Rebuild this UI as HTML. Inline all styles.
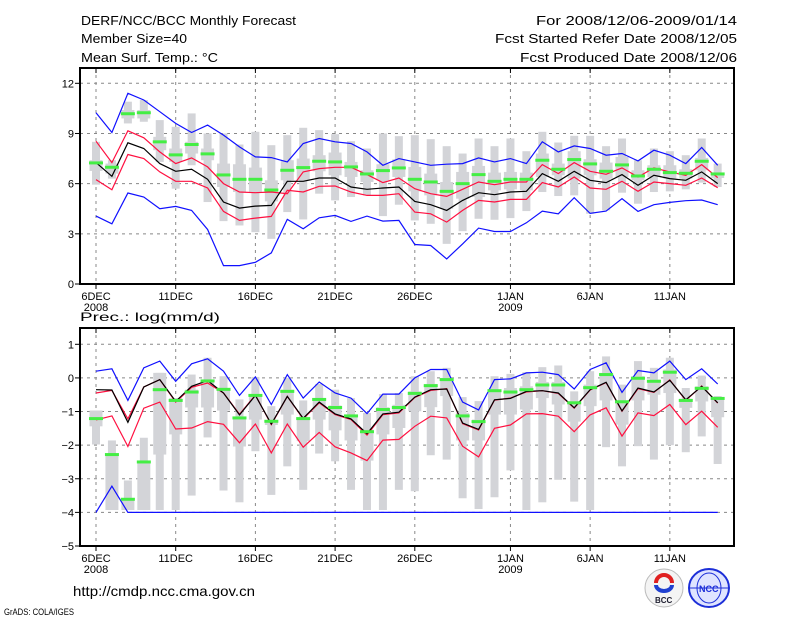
<!DOCTYPE html>
<html><head><meta charset="utf-8"><style>
body{margin:0;background:#fff;}
svg{display:block;font-family:"Liberation Sans",sans-serif;}
</style></head><body>
<svg id="chart" width="800" height="618" viewBox="0 0 800 618">
<g font-size="13" fill="#000">
<text x="81" y="25" textLength="215" lengthAdjust="spacingAndGlyphs">DERF/NCC/BCC Monthly Forecast</text>
<text x="81" y="43" textLength="106" lengthAdjust="spacingAndGlyphs">Member Size=40</text>
<text x="81" y="62" textLength="137" lengthAdjust="spacingAndGlyphs">Mean Surf. Temp.: °C</text>
<text x="536" y="25" textLength="201" lengthAdjust="spacingAndGlyphs">For 2008/12/06-2009/01/14</text>
<text x="495" y="43" textLength="242" lengthAdjust="spacingAndGlyphs">Fcst Started Refer Date 2008/12/05</text>
<text x="520" y="62" textLength="217" lengthAdjust="spacingAndGlyphs">Fcst Produced Date 2008/12/06</text>
<text x="80" y="321" font-size="12" textLength="140" lengthAdjust="spacingAndGlyphs">Prec.: log(mm/d)</text>
<text x="73" y="596" font-size="14" textLength="182" lengthAdjust="spacingAndGlyphs">http://cmdp.ncc.cma.gov.cn</text>
<text x="4" y="615" font-size="9" textLength="70" lengthAdjust="spacingAndGlyphs">GrADS: COLA/IGES</text>
</g>
<g>
<ellipse cx="664" cy="588" rx="19" ry="19" fill="#f4f4f4" stroke="#bbb"/>
<path d="M656 583 a8 8 0 1 1 16 0" fill="none" stroke="#e02020" stroke-width="4"/>
<path d="M656 585 a8 6 0 0 0 16 0" fill="none" stroke="#2040d0" stroke-width="4"/>
<text x="655" y="603" font-size="8" font-weight="bold" fill="#223">BCC</text>
</g>
<g>
<ellipse cx="709" cy="588" rx="20" ry="19" fill="#dfe4ff" stroke="#1c2ed8" stroke-width="2"/>
<ellipse cx="709" cy="588" rx="12" ry="15" fill="none" stroke="#1c2ed8"/>
<line x1="690" y1="588" x2="728" y2="588" stroke="#1c2ed8"/>
<text x="699" y="592" font-size="9" font-weight="bold" fill="#1c2ed8">NCC</text>
</g>
</svg>
<script>
// ---- data ----
const dayLabels = ["6DEC","11DEC","16DEC","21DEC","26DEC","1JAN","6JAN","11JAN"];
const dayLabelIdx = [0,5,10,15,20,26,31,36];
const yearLabels = ["2008","2009"];
const yearLabelIdx = [0,26];
const tTicks = [0,3,6,9,12];
const pTicks = [1,0,-1,-2,-3,-4,-5];

const tMaxEns = [10.24,9.06,11.4,11.0,10.3,9.6,9.06,9.5,8.9,8.2,7.6,7.56,7.3,8.4,8.7,8.5,8.4,7.9,7.1,7.5,7.3,7.1,7.16,7.2,7.54,7.3,7.5,7.2,8.5,7.9,8.26,8.1,7.7,7.8,7.36,8.0,7.7,7.2,8.16,7.1];
const tMinEns = [4.06,3.6,5.44,5.2,4.5,4.64,4.4,3.26,1.1,1.1,1.3,1.86,3.86,3.3,3.96,4.1,3.74,4.06,3.76,3.8,2.36,2.3,1.5,2.4,3.34,3.14,3.14,3.66,4.36,4.2,5.16,4.22,4.36,5.1,4.34,4.74,4.88,4.98,5.02,4.74];
const tUpper = [8.54,7.26,9.16,8.74,7.9,7.2,7.54,7.0,6.0,5.5,5.46,5.5,5.4,6.7,6.9,6.98,6.98,6.54,6.06,6.34,5.7,5.4,5.24,5.66,6.1,5.94,6.1,6.1,7.14,6.6,7.26,6.74,6.56,6.94,6.4,6.94,6.7,6.5,7.14,6.36];
const tLower = [6.24,5.64,7.74,7.5,6.7,6.14,6.14,5.74,4.34,3.8,3.94,4.04,5.6,5.5,5.84,5.86,5.5,5.3,5.3,5.4,4.3,4.2,3.7,4.4,5.0,4.9,5.06,5.06,6.06,5.8,6.4,5.74,5.66,6.14,5.54,6.1,6.0,5.9,6.34,5.76];
const tMean = [7.26,6.44,8.44,8.1,7.2,6.74,6.86,6.26,4.9,4.54,4.66,4.7,6.14,6.14,6.34,6.34,5.8,5.66,5.74,5.8,4.94,4.74,4.4,5.0,5.46,5.34,5.5,5.54,6.6,6.14,6.74,6.2,6.06,6.54,5.9,6.5,6.3,6.2,6.7,6.0];
const tMedian = [7.24,6.98,10.18,10.24,8.5,7.72,8.34,7.78,6.52,6.26,6.26,5.62,6.8,6.96,7.34,7.3,7.0,6.58,6.78,6.94,6.26,6.1,5.54,6.0,6.54,6.14,6.26,6.26,7.4,6.86,7.44,7.18,6.74,7.12,6.46,6.86,6.66,6.62,7.34,6.58];
const tBoxMax = [8.5,7.4,10.9,11.0,9.8,9.4,10.2,9.0,9.0,8.34,9.1,8.3,8.9,9.34,9.2,8.96,8.54,8.1,9.0,8.84,8.9,8.66,8.24,7.8,8.7,8.24,8.7,7.94,9.1,8.46,8.86,8.86,8.24,8.7,7.4,8.1,7.94,7.7,8.7,7.2];
const tBoxQ3 = [7.4,7.2,10.4,10.4,8.8,8.1,8.5,8.1,7.2,7.16,6.96,6.2,7.4,7.5,7.7,7.86,7.3,6.8,7.16,7.46,7.0,6.6,6.1,6.7,7.06,6.66,6.7,6.66,7.8,7.2,7.94,7.46,7.26,7.6,6.8,7.1,7.1,6.86,7.54,6.66];
const tBoxQ1 = [6.76,6.6,9.9,9.9,8.0,7.3,7.8,7.4,5.8,5.5,5.5,4.94,6.2,6.2,6.74,6.5,6.4,6.1,6.2,6.4,5.54,5.3,4.5,5.1,5.2,5.6,5.66,5.6,6.4,6.5,6.3,6.5,6.3,6.4,6.2,6.4,6.3,6.3,6.8,6.34];
const tBoxMin = [5.94,6.3,9.6,9.7,7.3,5.7,7.1,4.9,3.76,3.5,3.1,2.7,4.3,3.86,5.4,5.0,5.2,5.3,4.06,4.74,3.8,3.6,2.4,3.16,3.9,3.84,3.94,4.36,5.5,5.26,5.3,4.2,4.4,5.46,4.8,5.5,5.54,5.66,6.06,5.8];

const pMaxEns = [0.2,0.27,-0.67,0.3,0.5,-0.1,0.42,0.57,0.2,-0.52,0.03,-0.79,0.1,-0.6,-0.12,-0.45,-0.6,-1.06,-0.48,-0.48,0,0.25,0.25,-0.72,-0.95,-0.05,-0.03,0.15,0.17,0.1,-0.33,0.25,0.45,-0.43,0.22,0.15,0.5,-0.05,0.27,-0.18];
const pMinEns = [-4,-3.22,-4,-4,-4,-4,-4,-4,-4,-4,-4,-4,-4,-4,-4,-4,-4,-4,-4,-4,-4,-4,-4,-4,-4,-4,-4,-4,-4,-4,-4,-4,-4,-4,-4,-4,-4,-4,-4,-4];
const pUpper = [-0.45,-0.37,-1.22,-0.27,-0.05,-0.72,-0.28,-0.15,-0.45,-1.08,-0.51,-1.39,-0.55,-1.22,-0.74,-1.09,-1.24,-1.7,-1.09,-1.04,-0.58,-0.37,-0.32,-1.36,-1.55,-0.66,-0.6,-0.42,-0.38,-0.46,-0.9,-0.36,-0.14,-0.99,-0.32,-0.43,-0.06,-0.67,-0.24,-0.75];
const pLower = [-1.25,-1.13,-2.04,-0.9,-0.72,-1.52,-1.49,-1.3,-1.38,-1.93,-1.37,-2.23,-1.37,-2.06,-1.62,-2.05,-2.23,-2.46,-1.85,-1.83,-1.44,-1.14,-1.19,-2.03,-2.35,-1.5,-1.4,-1.07,-1.06,-1.14,-1.6,-1.1,-0.89,-1.73,-1.04,-1.12,-0.79,-1.39,-0.99,-1.47];
const pMean = [-0.35,-0.36,-1.32,-0.27,-0.05,-0.7,-0.25,-0.08,-0.45,-1.1,-0.52,-1.37,-0.55,-1.2,-0.72,-1.07,-1.22,-1.66,-1.07,-1.02,-0.57,-0.35,-0.33,-1.34,-1.53,-0.65,-0.61,-0.4,-0.38,-0.45,-0.89,-0.35,-0.13,-0.98,-0.3,-0.42,-0.07,-0.65,-0.25,-0.74];
const pMedian = [-1.21,-2.28,-3.61,-2.5,-0.35,-0.67,-0.42,-0.09,-0.34,-1.19,-0.52,-1.29,-0.4,-1.21,-0.64,-0.88,-1.13,-1.6,-0.94,-0.88,-0.46,-0.23,-0.05,-1.13,-1.3,-0.38,-0.42,-0.35,-0.21,-0.21,-0.74,-0.29,0.1,-0.71,-0.01,-0.1,0.17,-0.67,-0.31,-0.61];
const pBoxMax = [-0.97,-1.86,-3.05,-1.78,0.15,-0.6,0.1,0.6,0.05,-0.64,0.03,-0.84,0,-0.67,-0.18,-0.35,-0.6,-1.04,-0.48,-0.45,0.05,0.2,0.3,-0.57,-0.69,0.05,0.12,0.17,0.32,0.37,-0.4,0.2,0.64,-0.2,0.5,0.3,0.6,-0.3,0.07,-0.54];
const pBoxQ3 = [-0.97,-2.28,-3.6,-2.5,0.15,-0.6,-0.35,-0.05,-0.3,-1.19,-0.52,-1.26,-0.35,-1.21,-0.6,-0.82,-1.1,-1.54,-0.87,-0.8,-0.4,-0.18,0,-1.04,-1.24,-0.35,-0.3,-0.25,-0.12,-0.12,-0.69,-0.2,0.15,-0.67,0.05,-0.05,0.25,-0.62,-0.25,-0.64];
const pBoxQ1 = [-1.44,-3.93,-3.93,-3.93,-2.28,-1.68,-0.88,-0.88,-0.97,-2.04,-1.24,-1.4,-1.09,-1.88,-1.24,-1.56,-1.86,-2.46,-1.68,-1.49,-0.99,-0.87,-0.54,-1.86,-1.86,-1.09,-1.09,-0.94,-0.6,-0.79,-1.3,-0.84,-0.67,-1.39,-0.67,-0.5,-0.45,-0.89,-0.7,-1.17];
const pBoxMin = [-1.98,-3.93,-3.93,-3.93,-3.93,-3.93,-3.5,-1.77,-3.35,-3.7,-2.18,-3.48,-2.63,-3.33,-2.25,-2.48,-3.33,-3.93,-3.93,-3.33,-3.37,-2.3,-2.43,-3.58,-3.9,-3.55,-2.75,-3.93,-3.7,-3.03,-3.68,-3.93,-2.06,-2.63,-2.03,-2.43,-2.0,-2.21,-1.74,-2.56];

// ---- drawing ----
const NS = "http://www.w3.org/2000/svg";
const svg = document.getElementById("chart");
const X0 = 80, X1 = 734;
function xDay(i){ return 96 + i * 15.94; }
function mk(tag, attrs, parent){
  const e = document.createElementNS(NS, tag);
  for (const k in attrs) e.setAttribute(k, attrs[k]);
  (parent || svg).appendChild(e);
  return e;
}
function panel(name, top, bottom, vTop, yTop, vBot, yBot, ticks, S){
  const y = v => yTop + (v - vTop) * (yBot - yTop) / (vBot - vTop);
  const g = mk("g", {});
  
  
  const grid = mk("g", {stroke:"#888", "stroke-width":1, "stroke-dasharray":"3,4"}, g);
  
  
  ticks.forEach(t => { if (Math.abs(y(t)-top)>3 && Math.abs(y(t)-bottom)>3) mk("line", {x1:X0, x2:X1, y1:y(t), y2:y(t)}, grid); });
  dayLabelIdx.forEach(i => mk("line", {x1:xDay(i), x2:xDay(i), y1:top, y2:bottom}, grid));
  const boxes = mk("g", {fill:"#d3d4d8"}, g);
  
  
  for (let i = 0; i < S.bmax.length; i++){
    const cx = xDay(i);
    const w = mk("rect", {x:cx-4, width:8, y:y(S.bmax[i]), height:Math.max(1, y(S.bmin[i]) - y(S.bmax[i]))}, boxes);
    
    
    const b = mk("rect", {x:cx-6.5, width:13, y:y(S.q3[i]), height:Math.max(1, y(S.q1[i]) - y(S.q3[i]))}, boxes);
    
    
  }
  function line(arr, color, lname){
    const p = mk("polyline", {fill:"none", stroke:color, "stroke-width":1.2,
      points: arr.map((v,i)=>xDay(i).toFixed(1)+","+y(v).toFixed(1)).join(" ")}, g);
    
    
  }
  line(S.maxE, "#1010ff", name + '-max-line');
  line(S.minE, "#1010ff", name + '-min-line');
  line(S.lo, "#ff1040", name + '-lower-line');
  line(S.up, "#ff1040", name + '-upper-line');
  line(S.mean, "#000", name + '-mean-line');
  const med = mk("g", {fill:"#44ee44"}, g);
  
  
  S.med.forEach((v,i) => {
    const r = mk("rect", {x:xDay(i)-7, width:14, y:y(v)-1.5, height:3}, med);
    
    
  });
  const fr = mk("rect", {x:X0, y:top, width:X1-X0, height:bottom-top, fill:"none", stroke:"#000", "stroke-width":2}, g);
  
  
  ticks.forEach(t => {
    mk("line", {x1:X0-5, x2:X0, y1:y(t), y2:y(t), stroke:"#000"}, g);
    const tx = mk("text", {x:X0-6, y:y(t)+4, "font-size":11, "text-anchor":"end"}, g);
    tx.textContent = (t<0?"\u2212"+(-t):t);
    
    
  });
  dayLabelIdx.forEach((i,k) => {
    mk("line", {x1:xDay(i), x2:xDay(i), y1:bottom, y2:bottom+5, stroke:"#000"}, g);
    mk("line", {x1:xDay(i), x2:xDay(i), y1:top, y2:top+5, stroke:"#000"}, g);
    const tx = mk("text", {x:xDay(i), y:bottom+16, "font-size":11, "text-anchor":"middle"}, g);
    tx.textContent = dayLabels[k];
    
    
  });
  yearLabelIdx.forEach((i,k) => {
    const tx = mk("text", {x:xDay(i), y:bottom+27, "font-size":11, "text-anchor":"middle"}, g);
    tx.textContent = yearLabels[k];
    
    
  });
}
panel("temperature-panel", 68, 284, 12, 83.3, 0, 284, tTicks,
  {bmax:tBoxMax, q3:tBoxQ3, q1:tBoxQ1, bmin:tBoxMin, maxE:tMaxEns, minE:tMinEns, up:tUpper, lo:tLower, mean:tMean, med:tMedian});
panel("precipitation-panel", 328, 546, 1, 344.3, -5, 546, pTicks,
  {bmax:pBoxMax, q3:pBoxQ3, q1:pBoxQ1, bmin:pBoxMin, maxE:pMaxEns, minE:pMinEns, up:pUpper, lo:pLower, mean:pMean, med:pMedian});
</script>
</body></html>
